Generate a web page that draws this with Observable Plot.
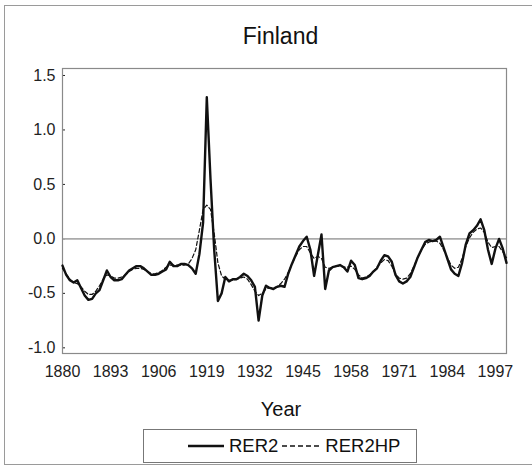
<!DOCTYPE html>
<html>
<head>
<meta charset="utf-8">
<script src="https://cdn.jsdelivr.net/npm/d3@7"></script>
<script src="https://cdn.jsdelivr.net/npm/@observablehq/plot@0.6"></script>
<style>
  html, body { margin: 0; padding: 0; background: #fff; }
  body { width: 532px; height: 468px; overflow: hidden; position: relative; font-family: "Liberation Sans", Arial, sans-serif; color: #222; }
  #border { position: absolute; left: 4px; top: 5px; width: 600px; height: 460px; border: 1.5px solid #9a9a9a; box-sizing: border-box; }
  #title { position: absolute; left: 0; width: 561px; top: 23px; text-align: center; font-size: 23px; line-height: 27px; color: #111; }
  #chart { position: absolute; left: 0; top: 40px; }
  #xlabel { position: absolute; left: 0; width: 562px; top: 397px; text-align: center; font-size: 20px; line-height: 24px; color: #111; }
  #legend { position: absolute; left: 143px; top: 429px; width: 274px; height: 34px; border: 1px solid #777; box-sizing: border-box; display: flex; align-items: center; font-size: 18.5px; color: #111; }
</style>
</head>
<body>
<div id="border"></div>
<div id="title">Finland</div>
<div id="chart"></div>
<div id="xlabel">Year</div>
<div id="legend"></div>
<script>
// ---- data ----
const years = d3.range(1880, 2001);
const rer2 = [
  -0.245, -0.33, -0.38, -0.40, -0.38, -0.45, -0.52, -0.56, -0.55, -0.50,
  -0.47, -0.38, -0.29, -0.35, -0.38, -0.38, -0.37, -0.33, -0.29, -0.27,
  -0.25, -0.25, -0.27, -0.30, -0.33, -0.33, -0.32, -0.30, -0.28, -0.21,
  -0.25, -0.25, -0.23, -0.23, -0.24, -0.27, -0.32, -0.14, 0.15, 1.30,
  0.55, -0.10, -0.57, -0.50, -0.35, -0.39, -0.37, -0.37, -0.35, -0.32,
  -0.34, -0.38, -0.44, -0.75, -0.52, -0.43, -0.45, -0.46, -0.44, -0.43,
  -0.44, -0.32, -0.23, -0.15, -0.07, -0.02, 0.02, -0.10, -0.34, -0.15,
  0.04, -0.46, -0.29, -0.26, -0.25, -0.24, -0.26, -0.30, -0.20, -0.24,
  -0.36, -0.37, -0.36, -0.34, -0.30, -0.27, -0.20, -0.15, -0.16, -0.21,
  -0.33, -0.39, -0.41, -0.39, -0.35, -0.26, -0.17, -0.10, -0.03, -0.01,
  -0.02, -0.01, 0.02, -0.08, -0.18, -0.28, -0.32, -0.34, -0.22, -0.05,
  0.05, 0.08, 0.12, 0.18, 0.08, -0.10, -0.23, -0.09, 0.00, -0.09,
  -0.22
];
const rer2hp = [
  -0.27, -0.32, -0.37, -0.40, -0.41, -0.44, -0.48, -0.51, -0.51, -0.48,
  -0.43, -0.37, -0.33, -0.34, -0.36, -0.36, -0.35, -0.33, -0.30, -0.28,
  -0.27, -0.27, -0.28, -0.30, -0.32, -0.32, -0.31, -0.29, -0.26, -0.24,
  -0.24, -0.24, -0.24, -0.24, -0.23, -0.18, -0.10, 0.08, 0.27, 0.31,
  0.27, 0.05, -0.22, -0.34, -0.37, -0.38, -0.38, -0.37, -0.36, -0.35,
  -0.37, -0.42, -0.48, -0.52, -0.50, -0.46, -0.45, -0.45, -0.44, -0.41,
  -0.37, -0.31, -0.23, -0.16, -0.10, -0.07, -0.07, -0.13, -0.18, -0.16,
  -0.18, -0.26, -0.27, -0.26, -0.25, -0.25, -0.26, -0.26, -0.25, -0.28,
  -0.33, -0.36, -0.35, -0.33, -0.30, -0.26, -0.22, -0.19, -0.20, -0.25,
  -0.32, -0.36, -0.37, -0.36, -0.32, -0.25, -0.17, -0.10, -0.05, -0.03,
  -0.02, -0.02, -0.04, -0.10, -0.17, -0.24, -0.27, -0.26, -0.18, -0.07,
  0.01, 0.06, 0.09, 0.10, 0.06, -0.03, -0.08, -0.07, -0.07, -0.12,
  -0.17
];
const xTicks = [1880, 1893, 1906, 1919, 1932, 1945, 1958, 1971, 1984, 1997];
const yTicks = [-1.0, -0.5, 0.0, 0.5, 1.0, 1.5];
const seriesNames = ["RER2", "RER2HP"];

const rows = years.map((year, i) => ({year, rer2: rer2[i], rer2hp: rer2hp[i]}));

const chart = Plot.plot({
  width: 532,
  height: 353,
  marginLeft: 62,
  marginRight: 26,
  marginTop: 28,
  marginBottom: 40,
  style: {fontSize: "16px", fontFamily: "'Liberation Sans', Arial, sans-serif", color: "#222", background: "transparent", overflow: "visible"},
  x: {domain: [1880, 2000], ticks: xTicks, tickFormat: d => String(d), tickSize: 0, tickPadding: 12, label: null},
  y: {domain: [-1.052, 1.564], ticks: yTicks, tickFormat: d => d.toFixed(1), tickSize: -3, tickPadding: 10, label: null},
  marks: [
    Plot.ruleY([0], {stroke: "#aaaaaa", strokeWidth: 1.6}),
    Plot.frame({stroke: "#8a8a8a", strokeWidth: 1.2}),
    Plot.lineY(rows, {x: "year", y: "rer2hp", stroke: "#111", strokeWidth: 1.2, strokeDasharray: "4,2.5"}),
    Plot.lineY(rows, {x: "year", y: "rer2", stroke: "#111", strokeWidth: 2.4, strokeLinejoin: "round"})
  ]
});
document.getElementById("chart").appendChild(chart);

// legend
const legend = document.getElementById("legend");
legend.innerHTML = `
  <svg width="36" height="6" style="margin-left:44px"><line x1="0" x2="36" y1="3" y2="3" stroke="#111" stroke-width="2.4"/></svg>
  <span style="margin-left:5px">${seriesNames[0]}</span>
  <svg width="40" height="6" style="margin-left:4px"><line x1="0" x2="40" y1="3" y2="3" stroke="#111" stroke-width="1.3" stroke-dasharray="5,3"/></svg>
  <span style="margin-left:3px">${seriesNames[1]}</span>`;
</script>
</body>
</html>
